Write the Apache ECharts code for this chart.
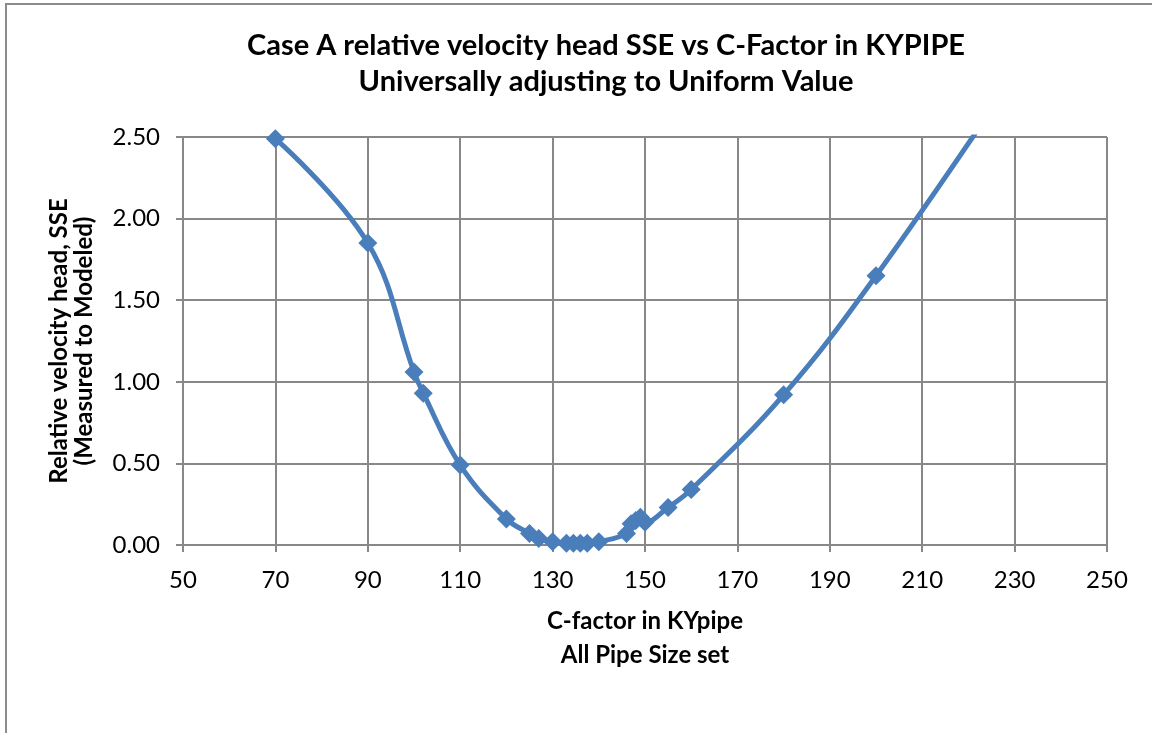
<!DOCTYPE html>
<html>
<head>
<meta charset="utf-8">
<script src="https://cdn.jsdelivr.net/npm/echarts@6/dist/echarts.min.js"></script>
<style>
html,body{margin:0;padding:0;background:#fff;}
#chart{width:1152px;height:733px;}
</style>
</head>
<body>
<div id="chart"></div>
<script>
var titleLines = ['Case A relative velocity head SSE vs C-Factor in KYPIPE', 'Universally adjusting to Uniform Value'];
var xAxisTitle = ['C-factor in KYpipe', 'All Pipe Size set'];
var yAxisTitle = ['Relative velocity head, SSE', '(Measured to Modeled)'];
var cFactor = [70, 90, 100, 102, 110, 120, 125, 127, 130, 133, 134.5, 136, 137.5, 140, 146, 147, 148, 149, 150, 155, 160, 180, 200, 230];
var sse = [2.49, 1.85, 1.06, 0.93, 0.49, 0.16, 0.07, 0.04, 0.02, 0.01, 0.01, 0.01, 0.01, 0.02, 0.07, 0.13, 0.15, 0.17, 0.14, 0.23, 0.34, 0.92, 1.65, 2.88];

var FONT = 'Lato, "Open Sans", sans-serif';
var GRID = '#888888';
var BLUE = '#4a7ebb';

var points = cFactor.map(function (x, i) { return [x, sse[i]]; });

var chart = echarts.init(document.getElementById('chart'), null, {renderer: 'canvas'});
chart.setOption({
  animation: false,
  backgroundColor: '#ffffff',
  title: {
    text: titleLines.join('\n'),
    left: 606,
    top: 28,
    padding: 0,
    textAlign: 'center',
    textStyle: {fontFamily: FONT, fontSize: 29, fontWeight: 'bold', color: '#000', lineHeight: 36}
  },
  graphic: [{
    type: 'rect',
    shape: {x: 6, y: 4, width: 1300, height: 900},
    style: {fill: 'none', stroke: '#8c8c8c', lineWidth: 2},
    silent: true, z: -1
  }],
  grid: {left: 183, right: 45, top: 137, bottom: 188, containLabel: false},
  xAxis: {
    type: 'value', min: 50, max: 250, interval: 20,
    name: xAxisTitle.join('\n'),
    nameLocation: 'middle', nameGap: 59, nameMoveOverlap: false,
    nameTextStyle: {fontFamily: FONT, fontSize: 24, fontWeight: 'bold', color: '#000', lineHeight: 34},
    axisLine: {show: true, onZero: false, lineStyle: {color: GRID, width: 2}},
    axisTick: {show: true, inside: false, length: 7, lineStyle: {color: GRID, width: 2}},
    axisLabel: {fontFamily: FONT, fontSize: 24, color: '#000', margin: 23},
    splitLine: {show: true, lineStyle: {color: GRID, width: 2}}
  },
  yAxis: {
    type: 'value', min: 0, max: 2.5, interval: 0.5,
    name: yAxisTitle.join('\n'),
    nameLocation: 'middle', nameGap: 86, nameRotate: 90, nameMoveOverlap: false,
    nameTextStyle: {fontFamily: FONT, fontSize: 24, fontWeight: 'bold', color: '#000', lineHeight: 25},
    axisLine: {show: true, onZero: false, lineStyle: {color: GRID, width: 2}},
    axisTick: {show: true, inside: false, length: 7, lineStyle: {color: GRID, width: 2}},
    axisLabel: {fontFamily: FONT, fontSize: 24, color: '#000', margin: 23, formatter: function (v) { return v.toFixed(2); }},
    splitLine: {show: true, lineStyle: {color: GRID, width: 2}}
  },
  series: [{
    type: 'line',
    data: points,
    smooth: 0.4,
    clip: true,
    symbol: 'diamond',
    symbolSize: 19,
    showAllSymbol: true,
    lineStyle: {color: BLUE, width: 5},
    itemStyle: {color: BLUE, borderWidth: 0}
  }]
});
</script>
</body>
</html>
